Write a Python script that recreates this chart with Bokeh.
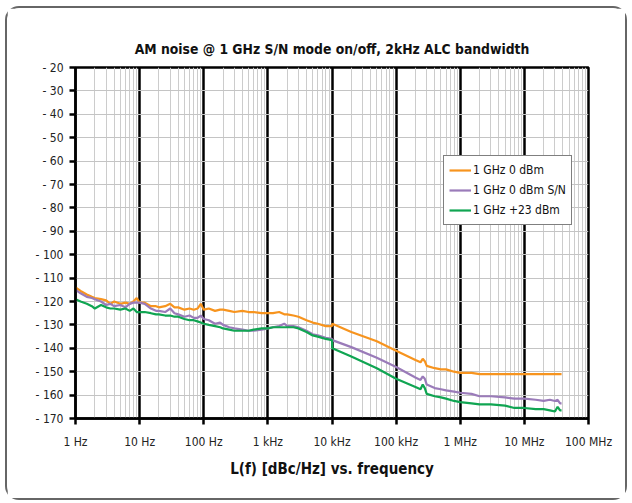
from bokeh.plotting import figure
from bokeh.models import (FixedTicker, CustomJSTickFormatter, Legend, LegendItem, Range1d)
from bokeh.embed import file_html
from bokeh.resources import INLINE

# ---------------- data ----------------
freq_hz = [1, 1.2, 1.5, 1.8, 2, 2.5, 3, 3.5, 4, 5, 6, 7, 8, 9, 10, 12, 15, 18, 20, 25, 30, 35, 40,
           50, 60, 70, 80, 90, 100, 120, 150, 180, 200, 250, 300, 400, 500, 600, 800, 1e3, 1.2e3,
           1.5e3, 1.8e3, 2e3, 2.5e3, 3e3, 4e3, 5e3, 6e3, 8e3, 1e4, 1.01e4, 2e4, 5e4, 1e5, 2e5,
           2.4e5, 2.6e5, 2.8e5, 3e5, 4e5, 5e5, 6e5, 8e5, 1e6, 1.5e6, 2e6, 3e6, 5e6, 7e6, 1e7,
           1.5e7, 2e7, 2.5e7, 3e7, 3.3e7, 3.6e7, 3.8e7]

ghz1_0dbm = [-114, -115.5, -117, -118, -118.5, -119, -119.5, -121, -120, -121, -120.5, -121, -120,
             -118.5, -120.5, -120.5, -122, -122, -122.5, -122, -121, -122.5, -122.5, -123.5, -123,
             -123.5, -123, -121, -123.5, -123, -124, -123.5, -123.5, -124, -124.5, -124, -124.5,
             -124.5, -125, -125, -125, -124.5, -125.5, -125.5, -126, -126.5, -128, -129, -129.5,
             -130.5, -130.5, -129.5, -133, -137, -141, -145, -146, -144.5, -145.5, -147.5, -148.5,
             -149, -149, -150, -150.5, -150.5, -151, -151, -151, -151, -151, -151, -151, -151,
             -151, -151, -151, -151]

ghz1_0dbm_sn = [-115, -116.5, -118, -118.5, -119, -120, -121.5, -121, -122, -121.5, -122.5, -121,
                -120.5, -120.5, -120.5, -121, -123, -124, -124, -124.5, -123, -125, -125.5, -126.5,
                -126, -127, -127, -126, -127.5, -128, -129.5, -129, -130, -131, -131.5, -132,
                -132.5, -132.5, -132, -131.5, -131, -130.5, -129.5, -130.5, -130.5, -131, -132.5,
                -134, -134.5, -135.5, -136, -136.5, -139.5, -144, -148, -152.5, -153.5, -152,
                -153, -155.5, -157, -157.5, -158, -158.5, -159, -159.5, -160.5, -160.5, -161,
                -161.5, -161.5, -162, -162.5, -162, -162.5, -162, -163.5, -163.5]

ghz1_23dbm = [-119, -120, -121, -122, -123, -121.5, -122.5, -123, -123, -123.5, -123, -124, -123,
              -124.5, -124.5, -124.5, -125, -125.5, -125.5, -126, -126, -126.5, -126.5, -127.5,
              -128, -128, -128.5, -129, -129.5, -130, -130.5, -131, -131.5, -132, -132.5, -132.5,
              -132.5, -132, -131.5, -131.5, -131, -131, -131, -131, -131, -131.5, -133, -134.5,
              -135, -136, -136.5, -140, -143.5, -148.5, -153, -156.5, -157.5, -155.5, -157,
              -159.5, -160.5, -161, -161.5, -162.5, -163, -163.5, -164, -164, -164.5, -165.5,
              -165.5, -166, -166, -166.5, -167, -165, -166.5, -166.5]

series_names = ["1 GHz 0 dBm", "1 GHz 0 dBm S/N", "1 GHz +23 dBm"]
series_colors = ["#F7941E", "#9A7BB9", "#10A552"]

x_ticks = [1, 10, 100, 1e3, 1e4, 1e5, 1e6, 1e7, 1e8]
x_tick_labels = ["1 Hz", "10 Hz", "100 Hz", "1 kHz", "10 kHz", "100 kHz", "1 MHz", "10 MHz", "100 MHz"]
y_ticks = list(range(-170, -10, 10))
y_tick_labels = ["- %d" % (-t) for t in y_ticks]

FONT = "'Liberation Sans Narrow', 'DejaVu Sans Condensed', 'Roboto', sans-serif"

p = figure(width=622, height=494, x_axis_type="log", output_backend="svg", toolbar_location=None,
           x_range=Range1d(1, 1e8), y_range=Range1d(-170, -20),
           min_border_left=68, min_border_right=41, min_border_top=59, min_border_bottom=84)
p.styles = {"border": "2px solid #666666", "border-radius": "14px", "margin": "6px 0 0 5px"}
p.background_fill_color = "white"
p.border_fill_color = "white"

p.title.text = "AM noise @ 1 GHz S/N mode on/off, 2kHz ALC bandwidth"
p.title.align = "center"
p.title.text_font = FONT
p.title.text_font_style = "bold"
p.title.text_font_size = "13.8px"
p.title.text_color = "#111111"
p.title.standoff = 22

minor = [m * 10 ** d for d in range(0, 8) for m in range(2, 10)]

# x axis
p.xaxis.ticker = FixedTicker(ticks=x_ticks, minor_ticks=minor)
p.xaxis.formatter = CustomJSTickFormatter(args=dict(tick_vals=x_ticks, tick_labs=x_tick_labels), code="""
    for (let i = 0; i < tick_vals.length; i++) {
        if (Math.abs(Math.log10(tick) - Math.log10(tick_vals[i])) < 1e-6) { return tick_labs[i]; }
    }
    return '';
""")
p.xaxis.axis_label = "L(f) [dBc/Hz] vs. frequency"
p.xaxis.axis_label_text_font = FONT
p.xaxis.axis_label_text_font_style = "bold"
p.xaxis.axis_label_text_font_size = "15px"
p.xaxis.axis_label_text_color = "#111111"
p.xaxis.axis_label_standoff = 8
p.xaxis.major_label_text_font = FONT
p.xaxis.major_label_text_font_size = "12px"
p.xaxis.major_label_text_color = "#222222"
p.xaxis.major_label_standoff = 10
p.xaxis.major_tick_out = 6
p.xaxis.major_tick_in = 0
p.xaxis.minor_tick_out = 0
p.xaxis.minor_tick_in = 0
p.xaxis.axis_line_width = 2.5
p.xaxis.major_tick_line_width = 2.5
p.xaxis.axis_line_color = "black"

# y axis
p.yaxis.ticker = FixedTicker(ticks=y_ticks)
p.yaxis.major_label_overrides = {t: lab for t, lab in zip(y_ticks, y_tick_labels)}
p.yaxis.major_label_text_font = FONT
p.yaxis.major_label_text_font_size = "12px"
p.yaxis.major_label_text_color = "#222222"
p.yaxis.major_label_standoff = 6
p.yaxis.major_tick_out = 6
p.yaxis.major_tick_in = 0
p.yaxis.minor_tick_out = 0
p.yaxis.minor_tick_in = 0
p.yaxis.axis_line_width = 2.5
p.yaxis.major_tick_line_width = 2.5
p.yaxis.axis_line_color = "black"

# grids
p.xgrid.grid_line_color = "black"
p.xgrid.grid_line_width = 2.5
p.xgrid.minor_grid_line_color = "#cccccc"
p.xgrid.minor_grid_line_width = 1
p.ygrid.grid_line_color = "#c4c4c4"
p.ygrid.grid_line_width = 1.2

p.outline_line_color = "black"
p.outline_line_width = 2.5
p.outline_line_alpha = 1

renderers = []
for ys, col in zip([ghz1_0dbm, ghz1_0dbm_sn, ghz1_23dbm], series_colors):
    r = p.line(freq_hz, ys, line_color=col, line_width=2.2)
    renderers.append(r)

legend = Legend(items=[LegendItem(label=n, renderers=[r]) for n, r in zip(series_names, renderers)],
                location=(368, 193), border_line_color="black", border_line_width=1.8,
                background_fill_color="white", background_fill_alpha=1,
                label_text_font=FONT, label_text_font_size="12px", label_text_color="#111111",
                glyph_width=22, glyph_height=18, label_height=18, label_standoff=2,
                spacing=2, padding=5, margin=0)
p.add_layout(legend, "center")

open("out.html", "w").write(file_html(p, INLINE))
